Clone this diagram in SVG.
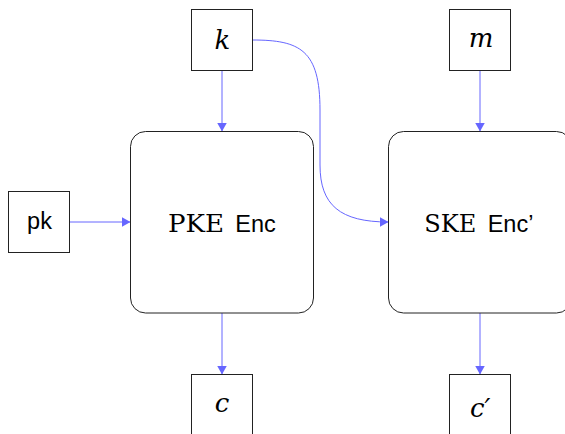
<svg xmlns="http://www.w3.org/2000/svg" width="565" height="434" viewBox="0 0 565 434">
<style>
.box{fill:#fff;stroke:#222;stroke-width:1}
.math{font-family:"DejaVu Serif",serif;font-style:italic;font-size:26px;fill:#000}
.rm{font-family:"DejaVu Serif",serif;font-size:24px;fill:#000}
.sf{font-family:"Liberation Sans",Arial,sans-serif;font-size:23.5px;fill:#000}
.edge{fill:none;stroke:#6666ff;stroke-width:1}
</style>
<defs>
<marker id="ah" viewBox="0 0 9 10" refX="9" refY="5" markerWidth="9" markerHeight="10" markerUnits="userSpaceOnUse" orient="auto">
<path d="M0,0 L9,5 L0,10 z" fill="#6666ff"/>
</marker>
</defs>
<rect width="565" height="434" fill="#fff"/>
<g id="connectors">
<path class="edge" marker-end="url(#ah)" d="M222,70.5 L222,131.5"/>
<path class="edge" marker-end="url(#ah)" d="M480,70.5 L480,131.5"/>
<path class="edge" marker-end="url(#ah)" d="M69.5,222 L130.5,222"/>
<path class="edge" marker-end="url(#ah)" d="M222,313 L222,374.5"/>
<path class="edge" marker-end="url(#ah)" d="M480,313 L480,374.5"/>
<path class="edge" marker-end="url(#ah)" d="M252.5,40 C300,40 320,50 320,110 L320,165 C320,205 340,222 388.5,222"/>
</g>
<g id="node-k">
<rect class="box" x="191.5" y="9.5" width="61" height="61"/>
<text class="math" x="222.5" y="49" text-anchor="middle">k</text>
</g>
<g id="node-m">
<rect class="box" x="449.5" y="9.5" width="61" height="61"/>
<text class="math" x="481" y="46.5" text-anchor="middle">m</text>
</g>
<g id="node-pk">
<rect class="box" x="8.5" y="191.5" width="61" height="61"/>
<text class="sf" x="39.5" y="228.5" text-anchor="middle">pk</text>
</g>
<g id="node-pke">
<rect class="box" x="130.5" y="131.5" width="183" height="181.5" rx="15" ry="15"/>
<text y="231.5"><tspan class="rm" x="168" textLength="56" lengthAdjust="spacingAndGlyphs">PKE</tspan><tspan class="sf" x="235.3">Enc</tspan></text>
</g>
<g id="node-ske">
<rect class="box" x="388.5" y="131.5" width="183" height="181.5" rx="15" ry="15"/>
<text y="232"><tspan class="rm" x="424.3" textLength="52" lengthAdjust="spacingAndGlyphs">SKE</tspan><tspan class="sf" x="487.7">Enc’</tspan></text>
</g>
<g id="node-c">
<rect class="box" x="191.5" y="374.5" width="61" height="61"/>
<text class="math" x="222" y="411.5" text-anchor="middle">c</text>
</g>
<g id="node-c2">
<rect class="box" x="449.5" y="374.5" width="61" height="61"/>
<text class="math" x="480.3" y="416.5" text-anchor="middle">c′</text>
</g>
</svg>
